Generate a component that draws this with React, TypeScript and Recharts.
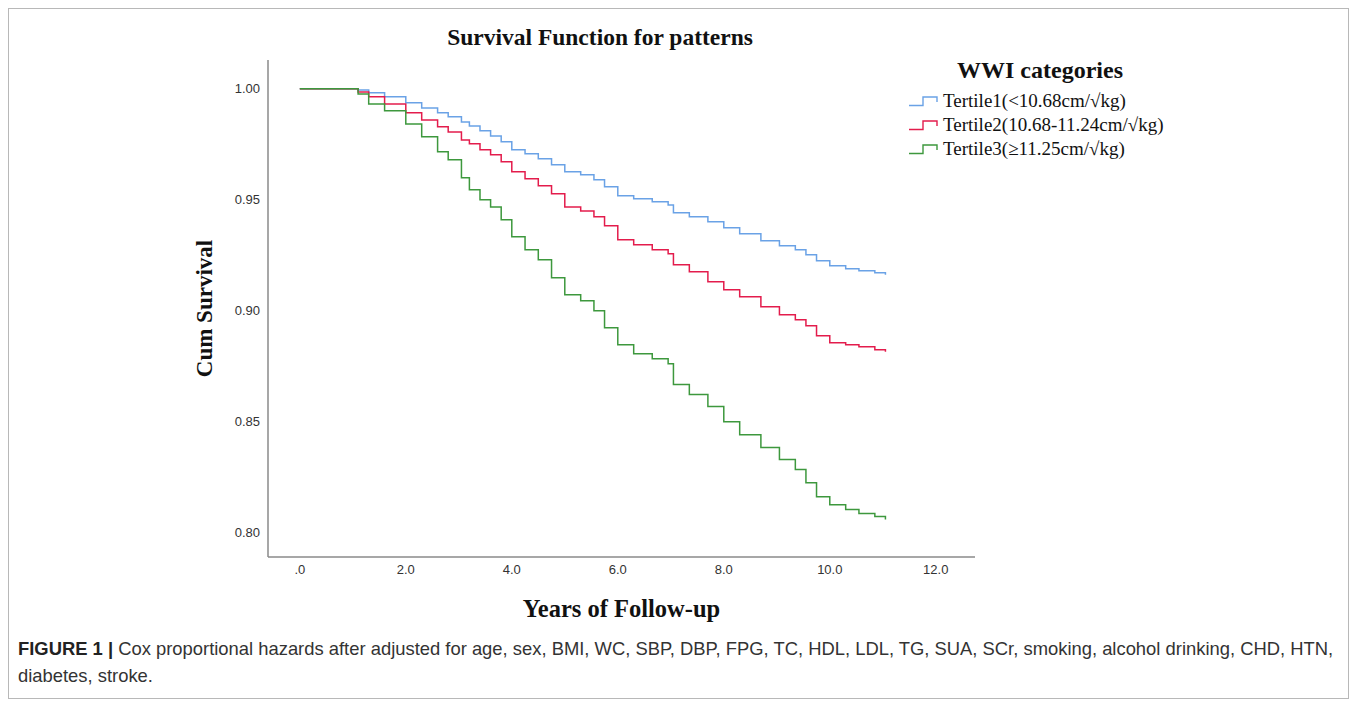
import React from 'react';
import { LineChart, Line, XAxis, YAxis, Label } from 'recharts';

const times = [0, 1.1, 1.3, 1.6, 2.0, 2.3, 2.6, 2.8, 3.05, 3.2, 3.4, 3.6, 3.8, 4.0, 4.25, 4.5, 4.75, 5.0, 5.3, 5.55, 5.75, 6.0, 6.3, 6.65, 6.95, 7.05, 7.35, 7.7, 8.0, 8.3, 8.7, 9.05, 9.35, 9.55, 9.75, 10.0, 10.3, 10.55, 10.85, 11.05];

const tertile1 = [1.0, 0.9995, 0.9982, 0.9964, 0.9937, 0.9914, 0.9892, 0.9874, 0.9851, 0.9833, 0.9811, 0.9788, 0.9761, 0.9725, 0.9707, 0.9685, 0.9658, 0.9626, 0.9613, 0.959, 0.9559, 0.9518, 0.9505, 0.9491, 0.9477, 0.9441, 0.9423, 0.9401, 0.9374, 0.9347, 0.9315, 0.9293, 0.9275, 0.9252, 0.9225, 0.9203, 0.9189, 0.918, 0.9171, 0.9162];

const tertile2 = [1.0, 0.9986, 0.9964, 0.9932, 0.9892, 0.986, 0.9829, 0.9806, 0.977, 0.9752, 0.9725, 0.9703, 0.9671, 0.9626, 0.9595, 0.9563, 0.9527, 0.9468, 0.945, 0.9423, 0.9383, 0.932, 0.9297, 0.9275, 0.9257, 0.9207, 0.9176, 0.9131, 0.9095, 0.9063, 0.9018, 0.8982, 0.8959, 0.8932, 0.8887, 0.8856, 0.8847, 0.8838, 0.8824, 0.8815];

const tertile3 = [1.0, 0.9977, 0.9932, 0.9901, 0.9842, 0.9784, 0.9716, 0.968, 0.9599, 0.9545, 0.95, 0.9468, 0.941, 0.9333, 0.9275, 0.923, 0.9149, 0.9072, 0.9045, 0.9, 0.8923, 0.8847, 0.8806, 0.8784, 0.8761, 0.8667, 0.8622, 0.8568, 0.85, 0.8441, 0.8383, 0.8329, 0.8284, 0.8225, 0.8162, 0.8126, 0.8104, 0.8086, 0.8072, 0.8059];

const seriesNames = ['Tertile1(<10.68cm/\u221Akg)', 'Tertile2(10.68-11.24cm/\u221Akg)', 'Tertile3(\u226511.25cm/\u221Akg)'];
const seriesKeys = ['t1', 't2', 't3'];
const seriesColors = ['#6aa2e6', '#e31c4c', '#3d983d'];

const xTicks = [0, 2, 4, 6, 8, 10, 12];
const xTickLabels = ['.0', '2.0', '4.0', '6.0', '8.0', '10.0', '12.0'];
const yTicks = [0.8, 0.85, 0.9, 0.95, 1.0];
const yTickLabels = ['0.80', '0.85', '0.90', '0.95', '1.00'];

const data = times.map((t, i) => ({ t, t1: tertile1[i], t2: tertile2[i], t3: tertile3[i] }));

const serif = '"Liberation Serif", "Times New Roman", serif';
const sans = '"Liberation Sans", Arial, sans-serif';

function StepIcon({ color }: { color: string }) {
  return (
    <svg width={34} height={12} style={{ display: 'block' }}>
      <path d="M1,10.5 H15 V2 H29 V7" fill="none" stroke={color} strokeWidth={1.4} />
    </svg>
  );
}

function LegendBox() {
  return (
    <div style={{ position: 'absolute', left: 900, top: 47, fontFamily: serif }}>
      <div style={{ fontWeight: 'bold', fontSize: 24, textAlign: 'center', width: 264, lineHeight: '30px', color: '#111' }}>WWI categories</div>
      <div style={{ marginTop: 4 }}>
        {seriesNames.map((n, i) => (
          <div key={n} style={{ display: 'flex', alignItems: 'center', height: 24, fontSize: 19, color: '#111' }}>
            <StepIcon color={seriesColors[i]} />
            <span style={{ marginLeft: 1 }}>{n}</span>
          </div>
        ))}
      </div>
    </div>
  );
}

export default function App() {
  return (
    <div style={{ position: 'relative', width: 1341, height: 691, background: '#fff' }}>
      <div style={{ position: 'absolute', left: 0, top: 0, right: 0, bottom: 0, border: '1px solid #b8b8b8' }} />
      <div style={{ position: 'absolute', left: 0, top: 16, width: 1184, textAlign: 'center', fontFamily: serif, fontWeight: 'bold', fontSize: 23.5, color: '#111' }}>
        Survival Function for patterns
      </div>
      <div style={{ position: 'absolute', left: 0, top: 0 }}>
        <LineChart width={1341} height={691} data={data} margin={{ top: 52, right: 374, bottom: 62, left: 140 }}>
          <XAxis
            dataKey="t"
            type="number"
            domain={[-0.6, 12.74]}
            ticks={xTicks}
            tickFormatter={(v: number) => xTickLabels[xTicks.indexOf(v)]}
            tickLine={false}
            axisLine={{ stroke: '#8a8a8a', strokeWidth: 1.5 }}
            tick={{ fontFamily: sans, fontSize: 13, fill: '#333' }}
            height={80}
          >
            <Label value="Years of Follow-up" position="insideBottom" offset={20} style={{ fontFamily: serif, fontWeight: 'bold', fontSize: 24.5, fill: '#111' }} />
          </XAxis>
          <YAxis
            type="number"
            domain={[0.789, 1.013]}
            ticks={yTicks}
            tickFormatter={(v: number) => yTickLabels[yTicks.indexOf(v)]}
            tickLine={false}
            axisLine={{ stroke: '#8a8a8a', strokeWidth: 1.5 }}
            tick={{ fontFamily: sans, fontSize: 13, fill: '#333' }}
            width={120}
          >
            <Label value="Cum Survival" angle={-90} position="insideLeft" offset={56} style={{ textAnchor: 'middle', fontFamily: serif, fontWeight: 'bold', fontSize: 23, fill: '#111' }} />
          </YAxis>
          {seriesKeys.map((k, i) => (
            <Line key={k} type="stepAfter" dataKey={k} name={seriesNames[i]} stroke={seriesColors[i]} strokeWidth={1.5} dot={false} isAnimationActive={false} />
          ))}
        </LineChart>
      </div>
      <LegendBox />
      <div style={{ position: 'absolute', left: 10, top: 627, width: 1325, fontFamily: sans, fontSize: 18.4, lineHeight: '27px', color: '#333', whiteSpace: 'nowrap' }}>
        <b style={{ color: '#222' }}>FIGURE 1 |</b> Cox proportional hazards after adjusted for age, sex, BMI, WC, SBP, DBP, FPG, TC, HDL, LDL, TG, SUA, SCr, smoking, alcohol drinking, CHD, HTN,<br />diabetes, stroke.
      </div>
    </div>
  );
}
